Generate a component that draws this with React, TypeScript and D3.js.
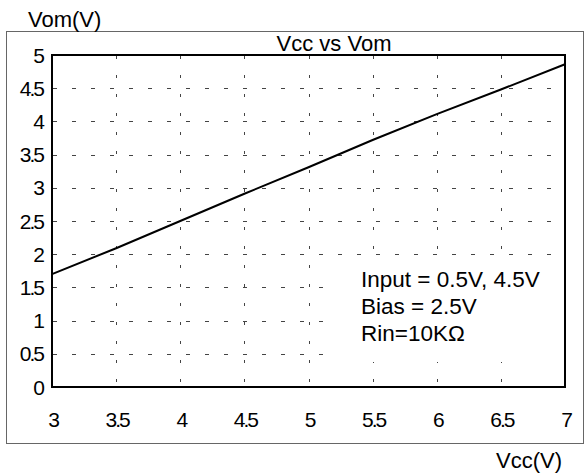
import React, { useEffect, useRef } from 'react';
import * as d3 from 'd3';

// Vcc sweep (V) and measured max output swing (V)
const vccValues = [3, 3.5, 4, 4.5, 5, 5.5, 6, 6.5, 7];
const vomValues = [1.7, 2.09, 2.5, 2.91, 3.31, 3.72, 4.11, 4.48, 4.86];

const xTicks = [3, 3.5, 4, 4.5, 5, 5.5, 6, 6.5, 7];
const yTicks = [0, 0.5, 1, 1.5, 2, 2.5, 3, 3.5, 4, 4.5, 5];

const notes = ['Input = 0.5V, 4.5V', 'Bias = 2.5V', 'Rin=10KΩ'];

export default function App() {
  const svgRef = useRef<SVGSVGElement>(null);

  useEffect(() => {
    if (!svgRef.current) return;
    const svg = d3.select(svgRef.current);
    svg.selectAll('*').remove();

    const W = 588, H = 475;
    const plot = { left: 52, right: 565, top: 55, bottom: 387 };
    const font = "'Liberation Sans', Arial, sans-serif";

    const x = d3.scaleLinear().domain([3, 7]).range([plot.left, plot.right]);
    const y = d3.scaleLinear().domain([0, 5]).range([plot.bottom, plot.top]);

    svg.append('rect').attr('width', W).attr('height', H).attr('fill', 'white');

    // outer frame
    svg.append('rect')
      .attr('x', 6.5).attr('y', 31.5)
      .attr('width', 577).attr('height', 412)
      .attr('fill', 'none')
      .attr('stroke', '#666')
      .attr('stroke-width', 1);

    const g = svg.append('g');

    // grid
    g.selectAll('.hgrid')
      .data(yTicks.filter(t => t > 0 && t < 5))
      .enter().append('line')
      .attr('x1', plot.left + 1).attr('x2', plot.right)
      .attr('y1', d => Math.round(y(d)) + 0.5).attr('y2', d => Math.round(y(d)) + 0.5)
      .attr('stroke', '#444')
      .attr('stroke-width', 1)
      .attr('stroke-dasharray', '4 15');

    g.selectAll('.vgrid')
      .data(xTicks.filter(t => t > 3 && t < 7))
      .enter().append('line')
      .attr('x1', d => Math.round(x(d)) + 0.5).attr('x2', d => Math.round(x(d)) + 0.5)
      .attr('y1', plot.top + 1).attr('y2', plot.bottom)
      .attr('stroke', '#444')
      .attr('stroke-width', 1)
      .attr('stroke-dasharray', '3 16');

    // white patch behind the annotation
    g.append('rect')
      .attr('x', 335).attr('y', 258)
      .attr('width', 227).attr('height', 104)
      .attr('fill', 'white');

    // plot box
    g.append('rect')
      .attr('x', plot.left).attr('y', plot.top)
      .attr('width', plot.right - plot.left).attr('height', plot.bottom - plot.top)
      .attr('fill', 'none')
      .attr('stroke', 'black')
      .attr('stroke-width', 2);

    // data line
    const line = d3.line<number>()
      .x((_, i) => x(vccValues[i]))
      .y(d => y(d));
    g.append('path')
      .attr('d', line(vomValues))
      .attr('fill', 'none')
      .attr('stroke', 'black')
      .attr('stroke-width', 2);

    // tick labels
    g.selectAll('.ylab')
      .data(yTicks)
      .enter().append('text')
      .attr('x', 43)
      .attr('y', d => y(d))
      .attr('dy', '0.36em')
      .attr('text-anchor', 'end')
      .attr('font-family', font)
      .attr('font-size', 21)
      .attr('letter-spacing', -2)
      .text(d => String(d));

    g.selectAll('.xlab')
      .data(xTicks)
      .enter().append('text')
      .attr('x', d => x(d) + 1)
      .attr('y', 427)
      .attr('text-anchor', 'middle')
      .attr('font-family', font)
      .attr('font-size', 21)
      .attr('letter-spacing', -2)
      .text(d => String(d));

    // titles
    svg.append('text')
      .attr('x', 334).attr('y', 51)
      .attr('text-anchor', 'middle')
      .attr('font-family', font)
      .attr('font-size', 22)
      .text('Vcc vs Vom');

    svg.append('text')
      .attr('x', 28).attr('y', 27)
      .attr('font-family', font)
      .attr('font-size', 22)
      .text('Vom(V)');

    svg.append('text')
      .attr('x', 562).attr('y', 468)
      .attr('text-anchor', 'end')
      .attr('font-family', font)
      .attr('font-size', 22)
      .text('Vcc(V)');

    // annotation
    svg.selectAll('.note')
      .data(notes)
      .enter().append('text')
      .attr('x', 361)
      .attr('y', (_, i) => 287 + i * 27)
      .attr('font-family', font)
      .attr('font-size', 22.5)
      .text(d => d);
  }, []);

  return (
    <svg
      ref={svgRef}
      width={588}
      height={475}
      style={{ position: 'absolute', left: 0, top: 0 }}
    />
  );
}
